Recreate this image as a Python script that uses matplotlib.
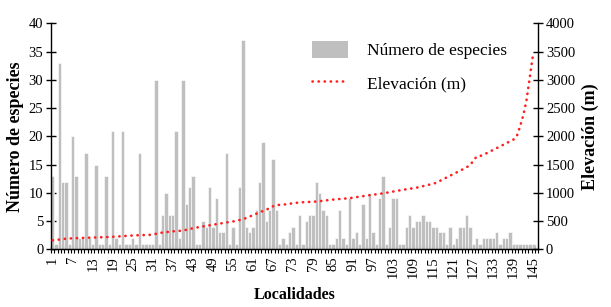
import matplotlib
matplotlib.use('Agg')
import matplotlib.pyplot as plt
import numpy as np
from matplotlib.patches import Patch
from matplotlib.lines import Line2D

plt.rcParams['font.family'] = ['Liberation Serif', 'DejaVu Serif']

localidades = list(range(1, 146))

especies = [
    13, 1, 33, 12, 12, 1, 20, 13, 2, 2,
    17, 2, 1, 15, 1, 1, 13, 1, 21, 2,
    1, 21, 1, 1, 2, 1, 17, 1, 1, 1,
    1, 30, 1, 6, 10, 6, 6, 21, 2, 30,
    8, 11, 13, 1, 1, 5, 4, 11, 4, 9,
    3, 3, 17, 1, 4, 1, 11, 37, 4, 3,
    4, 7, 12, 19, 5, 7, 16, 7, 1, 2,
    1, 3, 4, 1, 6, 1, 5, 6, 6, 12,
    10, 7, 6, 1, 1, 2, 7, 2, 1, 9,
    2, 3, 1, 8, 2, 10, 3, 1, 9, 13,
    1, 4, 9, 9, 1, 1, 4, 6, 4, 5,
    5, 6, 5, 5, 4, 4, 3, 3, 1, 4,
    1, 2, 4, 4, 6, 4, 1, 2, 1, 2,
    2, 2, 2, 3, 1, 2, 2, 3, 1, 1,
    1, 1, 1, 1, 1,
]

elevacion = [
    160, 165, 172, 180, 188, 192, 195, 197, 199, 200,
    202, 204, 206, 208, 210, 212, 215, 218, 221, 225,
    229, 233, 237, 241, 245, 248, 250, 252, 254, 255,
    262, 275, 288, 298, 305, 312, 318, 322, 326, 330,
    345, 360, 372, 384, 395, 405, 415, 425, 435, 445,
    455, 465, 475, 484, 492, 505, 518, 531, 555, 577,
    603, 630, 655, 678, 700, 730, 760, 784, 786, 790,
    798, 806, 814, 822, 830, 833, 836, 839, 842, 845,
    852, 859, 866, 873, 880, 885, 890, 895, 900, 905,
    914, 923, 932, 941, 950, 958, 966, 974, 982, 990,
    1001, 1012, 1023, 1034, 1045, 1054, 1063, 1072, 1081, 1090,
    1104, 1118, 1132, 1146, 1160, 1180, 1210, 1240, 1270, 1300,
    1330, 1360, 1390, 1420, 1450, 1490, 1560, 1640, 1650, 1670,
    1700, 1730, 1760, 1790, 1820, 1850, 1880, 1910, 1940, 1990,
    2170, 2370, 2650, 3060, 3480,
]

xtick_pos = list(range(1, 146, 6))
xtick_labels = [str(v) for v in xtick_pos]
left_ticks = list(range(0, 41, 5))
right_ticks = list(range(0, 4001, 500))

BAR = '#BFBFBF'
RED = '#FF1F1F'

fig = plt.figure(figsize=(6.11, 3.07), dpi=100)
ax = fig.add_axes([51/611, 1 - 249.3/307, (538.3 - 51)/611, (249.3 - 23.3)/307])
ax.bar(localidades, especies, width=1.0, color=BAR, edgecolor='white', linewidth=0.4, zorder=2)
ax.set_xlim(0.5, 146.5)
ax.set_ylim(0, 40)

ax2 = ax.twinx()
ax2.plot(localidades, elevacion, color=RED, lw=1.9, linestyle=(0, (0.1, 2.2)),
         dash_capstyle='round', zorder=3)
ax2.set_ylim(0, 4000)

for a in (ax, ax2):
    a.spines['top'].set_visible(False)
ax.spines['right'].set_visible(False)
ax2.spines['left'].set_visible(False)
for sp in ['left', 'bottom']:
    ax.spines[sp].set_linewidth(1.0)
ax2.spines['right'].set_linewidth(1.0)

ax.set_yticks(left_ticks)
ax2.set_yticks(right_ticks)
ax.tick_params(axis='y', direction='inout', length=7, width=1.0, labelsize=10.5, pad=2)
ax2.tick_params(axis='y', direction='inout', length=7, width=1.0, labelsize=10.5, pad=2)

ax.set_xticks(xtick_pos)
ax.set_xticklabels(xtick_labels, rotation=90)
ax.set_xticks(np.arange(0.5, 147, 1.0), minor=True)
ax.tick_params(axis='x', which='major', length=0, labelsize=10.5, pad=5)
ax.tick_params(axis='x', which='minor', direction='inout', length=6, width=0.8)

ax.set_ylabel('Número de especies', fontsize=13, fontweight='bold', labelpad=3)
ax2.set_ylabel('Elevación (m)', fontsize=13, fontweight='bold', labelpad=5)
ax.set_xlabel('Localidades', fontsize=11.5, fontweight='bold', labelpad=6)

handles = [Patch(facecolor=BAR, edgecolor='none'),
           Line2D([0], [0], color=RED, lw=1.9, linestyle=(0, (0.1, 2.2)), dash_capstyle='round')]
fig.legend(handles, ['Número de especies', 'Elevación (m)'], loc='upper left',
           bbox_to_anchor=(312/611, 1 - 41/307), bbox_transform=fig.transFigure,
           frameon=False, fontsize=12.5, handlelength=2.1, handleheight=1.1,
           handletextpad=1.05, labelspacing=0.85, borderpad=0, borderaxespad=0)

fig.savefig('out.png', dpi=100)
